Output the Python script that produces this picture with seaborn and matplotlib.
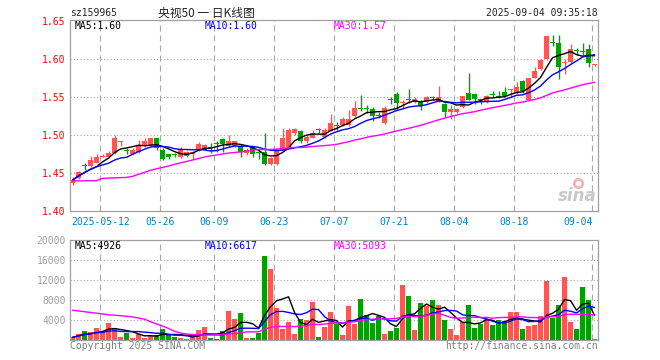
import numpy as np
import pandas as pd
import seaborn as sns
import matplotlib.pyplot as plt
from matplotlib.transforms import blended_transform_factory

# trading days: 2025-04-30, then 05-06 .. 09-04 (06-02 holiday)
days = pd.bdate_range("2025-05-06", "2025-09-04")
days = days[days != pd.Timestamp("2025-06-02")]
dates = ["2025-04-30"] + [d.strftime("%Y-%m-%d") for d in days]

opens = [1.437, 1.444, 1.461, 1.459, 1.464, 1.472, 1.471, 1.477, 1.491, 1.480,
         1.476, 1.478, 1.486, 1.487, 1.496, 1.481, 1.475, 1.475, 1.471, 1.473,
         1.475, 1.480, 1.481, 1.484, 1.489, 1.495, 1.486, 1.486, 1.486, 1.477,
         1.484, 1.478, 1.478, 1.462, 1.462, 1.481, 1.484, 1.503, 1.505, 1.492,
         1.497, 1.508, 1.498, 1.505, 1.513, 1.514, 1.514, 1.526, 1.535, 1.536,
         1.534, 1.527, 1.516, 1.547, 1.554, 1.543, 1.547, 1.544, 1.544, 1.544,
         1.550, 1.545, 1.541, 1.530, 1.531, 1.537, 1.556, 1.554, 1.547, 1.544,
         1.554, 1.552, 1.557, 1.560, 1.555, 1.571, 1.547, 1.576, 1.587, 1.600,
         1.622, 1.621, 1.595, 1.596, 1.612, 1.611, 1.613, 1.592]
highs = [1.445, 1.453, 1.464, 1.473, 1.475, 1.476, 1.479, 1.500, 1.492, 1.483,
         1.483, 1.494, 1.497, 1.497, 1.497, 1.483, 1.476, 1.477, 1.484, 1.479,
         1.479, 1.491, 1.489, 1.490, 1.493, 1.497, 1.500, 1.493, 1.489, 1.483,
         1.486, 1.480, 1.503, 1.472, 1.483, 1.509, 1.510, 1.510, 1.507, 1.500,
         1.507, 1.510, 1.509, 1.528, 1.517, 1.524, 1.533, 1.545, 1.553, 1.540,
         1.537, 1.530, 1.539, 1.550, 1.557, 1.547, 1.561, 1.550, 1.546, 1.552,
         1.552, 1.565, 1.543, 1.540, 1.536, 1.552, 1.582, 1.556, 1.548, 1.553,
         1.558, 1.558, 1.564, 1.561, 1.570, 1.573, 1.575, 1.590, 1.600, 1.631,
         1.632, 1.632, 1.601, 1.620, 1.615, 1.621, 1.620, 1.594]
lows = [1.434, 1.443, 1.454, 1.458, 1.463, 1.471, 1.470, 1.476, 1.486, 1.475,
        1.475, 1.477, 1.485, 1.486, 1.481, 1.468, 1.469, 1.472, 1.470, 1.472,
        1.469, 1.479, 1.480, 1.477, 1.478, 1.478, 1.485, 1.485, 1.471, 1.474,
        1.472, 1.469, 1.461, 1.461, 1.461, 1.480, 1.483, 1.501, 1.490, 1.490,
        1.496, 1.503, 1.497, 1.505, 1.507, 1.512, 1.512, 1.524, 1.532, 1.529,
        1.519, 1.523, 1.515, 1.541, 1.535, 1.535, 1.542, 1.542, 1.533, 1.543,
        1.546, 1.544, 1.524, 1.522, 1.529, 1.536, 1.546, 1.541, 1.541, 1.542,
        1.551, 1.549, 1.550, 1.550, 1.554, 1.556, 1.546, 1.575, 1.586, 1.599,
        1.617, 1.574, 1.580, 1.595, 1.606, 1.606, 1.590, 1.591]
closes = [1.441, 1.452, 1.460, 1.468, 1.472, 1.473, 1.477, 1.496, 1.492, 1.479,
          1.481, 1.487, 1.492, 1.496, 1.483, 1.469, 1.471, 1.474, 1.482, 1.478,
          1.478, 1.489, 1.487, 1.483, 1.488, 1.489, 1.493, 1.492, 1.478, 1.480,
          1.475, 1.477, 1.462, 1.470, 1.482, 1.496, 1.507, 1.508, 1.492, 1.498,
          1.503, 1.507, 1.507, 1.516, 1.512, 1.522, 1.522, 1.536, 1.534, 1.535,
          1.525, 1.526, 1.536, 1.546, 1.543, 1.544, 1.546, 1.548, 1.539, 1.550,
          1.549, 1.550, 1.530, 1.535, 1.535, 1.552, 1.547, 1.548, 1.546, 1.552,
          1.553, 1.551, 1.552, 1.561, 1.564, 1.558, 1.575, 1.584, 1.599, 1.631,
          1.621, 1.590, 1.596, 1.613, 1.611, 1.610, 1.595, 1.594]
volumes = [590, 1160, 1820, 1620, 2450, 1770, 3400, 2500, 650, 1440,
           520, 1300, 520, 790, 1050, 2230, 1050, 720, 520, 330,
           720, 2030, 2620, 520, 330, 1900, 5850, 4260, 5450, 460,
           520, 1500, 16800, 14200, 6400, 2300, 3670, 1300, 4260, 4070,
           7600, 650, 2690, 5600, 3210, 1050, 6760, 3210, 8330, 4990,
           3410, 4920, 1250, 1840, 2430, 11090, 8920, 2030, 7350, 6760,
           7940, 6950, 4000, 2230, 1050, 3670, 6950, 2430, 3280, 4330,
           3020, 4000, 3870, 5580, 5580, 2230, 2820, 3020, 4790, 11870,
           4400, 6950, 12660, 3670, 2230, 10560, 7940, 330]

# MA30 for the first 29 days needs older data ->
ma30_head = [1.4400, 1.4400, 1.4401, 1.4402, 1.4403, 1.4434, 1.4437, 1.4440, 1.4443, 1.4446,
             1.4460, 1.4487, 1.4512, 1.4540, 1.4560, 1.4578, 1.4595, 1.4618, 1.4638, 1.4656,
             1.4675, 1.4695, 1.4715, 1.4730, 1.4740, 1.4755, 1.4766, 1.4774, 1.4780]
vol_ma30_head = [6000, 5850, 5700, 5550, 5400, 5250, 5100, 5000, 4900, 4800,
                 4650, 4450, 4200, 3700, 3250, 2850, 2350, 1800, 1450, 1250,
                 1150, 1100, 1050, 1050, 1100, 1150, 1250, 1350, 1450]

tick_dates = ["2025-05-12", "2025-05-26", "2025-06-09", "2025-06-23", "2025-07-07",
              "2025-07-21", "2025-08-04", "2025-08-18", "2025-09-04"]
price_ticks = [1.40, 1.45, 1.50, 1.55, 1.60, 1.65]
vol_ticks = [4000, 8000, 12000, 16000, 20000]
price_ma_labels = ["MA5:1.60", "MA10:1.60", "MA30:1.57"]
vol_ma_labels = ["MA5:4926", "MA10:6617", "MA30:5093"]

df = pd.DataFrame({"date": dates, "open": opens, "high": highs, "low": lows,
                   "close": closes, "volume": volumes})
df["idx"] = np.arange(len(df))
df["dir"] = np.where(df["close"] >= df["open"], "up", "down")
df["ma5"] = df["close"].rolling(5, min_periods=1).mean()
df["ma10"] = df["close"].rolling(10, min_periods=1).mean()
df["ma30"] = df["close"].rolling(30).mean()
df.loc[:28, "ma30"] = ma30_head
df["vma5"] = df["volume"].rolling(5, min_periods=1).mean()
df["vma10"] = df["volume"].rolling(10, min_periods=1).mean()
df["vma30"] = df["volume"].rolling(30).mean()
df.loc[:28, "vma30"] = vol_ma30_head

sns.set_theme(style="white")
plt.rcParams["font.family"] = ["DejaVu Sans Mono", "Noto Sans CJK SC"]
plt.rcParams["font.size"] = 7

W, H = 660, 360
def box(l, t, r, b):
    return [l / W, 1 - b / H, (r - l) / W, (b - t) / H]

fig = plt.figure(figsize=(6.6, 3.6), dpi=100)
ax = fig.add_axes(box(70, 20, 597.7, 211.3))
axv = fig.add_axes(box(70, 240, 597.7, 340.3))

colors = {"up": "#ff5555", "down": "#00a000"}
ma_colors = ["black", "#0000ff", "#ff00ff"]
grid_c = "#a8a8a8"

# candles
ccol = df["dir"].map(colors)
ax.vlines(df["idx"], df["low"], df["high"], colors=ccol, lw=1)
lo = df[["open", "close"]].min(axis=1)
hi = df[["open", "close"]].max(axis=1)
ax.bar(df["idx"], np.maximum(hi - lo, 0.0013), bottom=lo, width=0.85, color=ccol, lw=0)
for col, c in zip(["ma5", "ma10", "ma30"], ma_colors):
    sns.lineplot(data=df, x="idx", y=col, ax=ax, color=c, lw=1)

# volume
sns.barplot(data=df, x="idx", y="volume", hue="dir", palette=colors, native_scale=True,
            dodge=False, width=0.85, saturation=1, legend=False, errorbar=None,
            linewidth=0, ax=axv)
for col, c in zip(["vma5", "vma10", "vma30"], ma_colors):
    sns.lineplot(data=df, x="idx", y=col, ax=axv, color=c, lw=1)

tick_pos = [dates.index(d) for d in tick_dates]
for a, ylim, ticks, labcol in [(ax, (1.40, 1.6517), price_ticks, "red"),
                               (axv, (0, 20000), vol_ticks, "#a0a0a0")]:
    a.set_xlim(-0.42, 87.53)
    a.set_ylim(*ylim)
    a.set(xlabel="", ylabel="")
    a.set_xticks([])
    a.set_yticks(ticks)
    a.tick_params(axis="y", length=0, pad=3, labelsize=7, labelcolor=labcol)
    for t in ticks:
        if ylim[0] < t < ylim[1] - 0.01 * (ylim[1] - ylim[0]):
            a.axhline(t, color=grid_c, lw=0.8, ls=(0, (1, 2)), zorder=0)
    for p in tick_pos:
        a.axvline(p - 0.35, color=grid_c, lw=0.8, ls=(0, (5.4, 3.6)), zorder=0)
    for s in a.spines.values():
        s.set_color("#a0a0a0")
        s.set_linewidth(0.9)

ax.set_yticklabels([f"{t:.2f}" for t in price_ticks])
axv.set_yticklabels([str(t) for t in vol_ticks])

# date labels
tr = blended_transform_factory(ax.transData, ax.transAxes)
for k, (p, d) in enumerate(zip(tick_pos, tick_dates)):
    txt = d if k == 0 else d[5:]
    ha = "right" if k == len(tick_dates) - 1 else "center"
    ax.text(p - 0.35, -0.054, txt, transform=tr, ha=ha, va="center",
            color="#0080cc", fontsize=7)

# sina watermark
ax.plot([0.962], [0.15], "o", ms=6, mfc="none", mec="#f4b4b4", mew=2, transform=ax.transAxes)
ax.text(0.997, 0.035, "sina", transform=ax.transAxes, ha="right", va="bottom",
        fontsize=12, fontstyle="italic", fontweight="bold", color="#c8c8c8", family="DejaVu Sans")

# header / labels
fig.text(70 / W, 1 - 13 / H, "sz159965", ha="left", va="center", fontsize=7)
fig.text(206 / W, 1 - 13 / H, "央视50 一 日K线图", ha="center", va="center", fontsize=8.5,
         family=["Noto Sans CJK SC", "DejaVu Sans"])
fig.text(597.7 / W, 1 - 13 / H, "2025-09-04 09:35:18", ha="right", va="center", fontsize=7)
for x, lab, c in zip([74.7, 205, 334], price_ma_labels, ma_colors):
    fig.text(x / W, 1 - 26 / H, lab, color=c, ha="left", va="center", fontsize=7)
for x, lab, c in zip([74.7, 205, 334], vol_ma_labels, ma_colors):
    fig.text(x / W, 1 - 246.3 / H, lab, color=c, ha="left", va="center", fontsize=7)
fig.text(70 / W, 1 - 345.7 / H, "Copyright 2025 SINA.COM", color="#808080",
         ha="left", va="center", fontsize=7)
fig.text(597.7 / W, 1 - 345.7 / H, "http://finance.sina.com.cn", color="#808080",
         ha="right", va="center", fontsize=7)

fig.savefig("out.png", dpi=100, facecolor="white")
